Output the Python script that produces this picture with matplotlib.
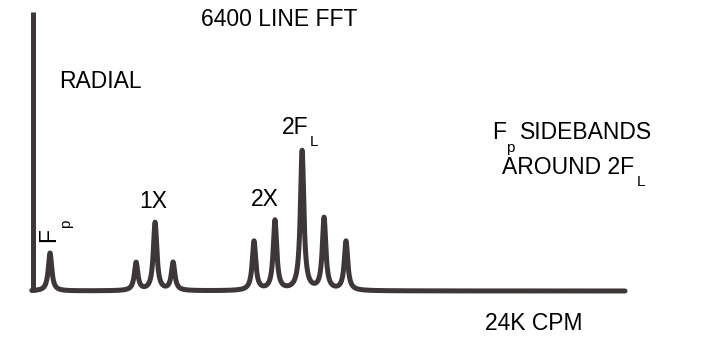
import matplotlib.pyplot as plt
import numpy as np

plt.rcParams['font.family'] = ['Liberation Sans', 'DejaVu Sans']

# spectrum peaks: frequency (kCPM) and relative amplitude
peak_freq = [0.69, 4.18, 4.95, 5.68, 8.96, 9.81, 10.91, 11.80, 12.69]
peak_amp = [0.136, 0.10, 0.244, 0.10, 0.176, 0.25, 0.50, 0.258, 0.176]
fmax = 24.0

W, H = 713, 342
fig = plt.figure(figsize=(W / 100, H / 100), dpi=100)
ax = fig.add_axes([0, 0, 1, 1])

# map: axis origin at pixel (33, 291), 24K CPM at pixel 625, full scale at pixel 12
kx = fmax / (625 - 33)
ky = 1.0 / (291 - 12)
ax.set_xlim(-33 * kx, (W - 33) * kx)
ax.set_ylim(-(H - 291) * ky, 291 * ky)
ax.axis('off')

col = '#3d3737'
gam = 0.085
f = np.linspace(-0.05, fmax, 8000)
spec = np.zeros_like(f)
for fr, a in zip(peak_freq, peak_amp):
    spec += a * gam**2 / ((f - fr)**2 + gam**2)
ax.plot(f, spec, color=col, lw=3.6, solid_capstyle='round', solid_joinstyle='round')
ax.plot([0, 0], [-0.005, 1.0], color=col, lw=3.6, solid_capstyle='butt')


def txt(x, y, s, size=16.5, ha='left', **kw):
    fig.text(x / W, 1 - y / H, s, size=size, ha=ha, va='center', **kw)


txt(201, 19, '6400 LINE FFT')
txt(59, 81, 'RADIAL')
txt(139, 202, '1X')
txt(251, 199, '2X')
txt(282, 127, '2F')
txt(310, 142, 'L', size=11)
txt(49, 235, 'F', ha='center', rotation=90)
txt(66, 224, 'p', size=11, ha='center', rotation=90)
txt(492, 133, 'F')
txt(506, 148, 'p', size=11)
txt(520, 133, 'SIDEBANDS')
txt(502, 167, 'AROUND 2F')
txt(637, 182, 'L', size=11)
txt(485, 323, '24K CPM')

fig.savefig('out.png', dpi=100)
